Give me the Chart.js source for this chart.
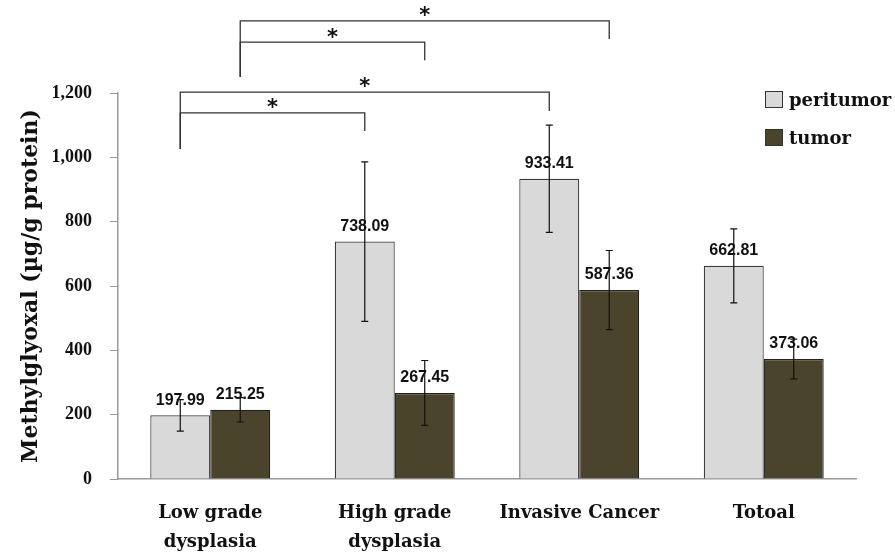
<!DOCTYPE html>
<html>
<head>
<meta charset="utf-8">
<script src="https://cdn.jsdelivr.net/npm/chart.js@4"></script>
<style>
    body { margin: 0; background: #fff; }
    .wrap { position: relative; width: 895px; height: 556px; }
    .legend { position: absolute; left: 765px; top: 80px; font: bold 18px 'DejaVu Serif', serif; color: #111; }
    .legend .item { display: flex; align-items: center; height: 38px; }
    .legend .box { width: 16px; height: 15px; border: 1px solid #333; margin-right: 6px; }
</style>
</head>
<body>
<div class="wrap">
    <canvas id="chart" width="895" height="556"></canvas>
    <div class="legend" id="legend"></div>
</div>
<script>
const categories = [['Low grade', 'dysplasia'], ['High grade', 'dysplasia'], 'Invasive Cancer', 'Totoal']
const seriesLabels = ['peritumor', 'tumor']
const peritumorValues = [197.99, 738.09, 933.41, 662.81]
const tumorValues = [215.25, 267.45, 587.36, 373.06]
const peritumorErrors = [49, 248, 167, 115]
const tumorErrors = [38, 101, 123, 62]
const yTicks = [0, 200, 400, 600, 800, 1000, 1200]

// significance brackets: [category, series] ends, heights in µg/g
const brackets = [
    {from: [0, 0], to: [1, 0], level: 1138, leftEnd: 1026, rightEnd: 1082},
    {from: [0, 0], to: [2, 0], level: 1203, leftEnd: 1026, rightEnd: 1144},
    {from: [0, 1], to: [1, 1], level: 1358, leftEnd: 1250, rightEnd: 1302},
    {from: [0, 1], to: [2, 1], level: 1424, leftEnd: 1250, rightEnd: 1368},
]

const colors = ['#d9d9d9', '#4a442d']
const errors = [peritumorErrors, tumorErrors]

const extrasPlugin = {
    id: 'extras',
    afterDatasetsDraw: (chart) => {
        const ctx = chart.ctx
        const y = chart.scales.y

        // value labels
        ctx.save()
        ctx.font = 'bold 16px "Liberation Sans", sans-serif'
        ctx.fillStyle = '#111'
        ctx.textAlign = 'center'
        ctx.textBaseline = 'bottom'
        chart.data.datasets.forEach((ds, i) => {
            chart.getDatasetMeta(i).data.forEach((bar, j) => {
                ctx.fillText(ds.data[j].toFixed(2), bar.x, bar.y - 7)
            })
        })

        // error bars
        ctx.strokeStyle = '#111'
        ctx.lineWidth = 1.2
        chart.data.datasets.forEach((ds, i) => {
            chart.getDatasetMeta(i).data.forEach((bar, j) => {
                const top = y.getPixelForValue(ds.data[j] + errors[i][j])
                const bottom = y.getPixelForValue(ds.data[j] - errors[i][j])
                ctx.beginPath()
                ctx.moveTo(bar.x, top)
                ctx.lineTo(bar.x, bottom)
                ctx.moveTo(bar.x - 3.5, top)
                ctx.lineTo(bar.x + 3.5, top)
                ctx.moveTo(bar.x - 3.5, bottom)
                ctx.lineTo(bar.x + 3.5, bottom)
                ctx.stroke()
            })
        })
        ctx.restore()
    },
    afterDraw: (chart) => {
        const ctx = chart.ctx
        const y = chart.scales.y
        const barX = (pos) => chart.getDatasetMeta(pos[1]).data[pos[0]].x

        ctx.save()
        ctx.strokeStyle = '#333'
        ctx.lineWidth = 1.3
        ctx.fillStyle = '#111'
        ctx.font = 'bold 21px "DejaVu Sans", sans-serif'
        ctx.textAlign = 'center'
        ctx.textBaseline = 'middle'
        brackets.forEach((b) => {
            const x1 = barX(b.from)
            const x2 = barX(b.to)
            const yl = y.getPixelForValue(b.level)
            ctx.beginPath()
            ctx.moveTo(x1, y.getPixelForValue(b.leftEnd))
            ctx.lineTo(x1, yl)
            ctx.lineTo(x2, yl)
            ctx.lineTo(x2, y.getPixelForValue(b.rightEnd))
            ctx.stroke()
            ctx.fillText('*', (x1 + x2) / 2, yl - 4)
        })
        ctx.restore()
    }
}

const buildLegend = () => {
    const legend = document.getElementById('legend')
    legend.innerHTML = ''
    seriesLabels.forEach((label, i) => {
        const item = document.createElement('div')
        item.className = 'item'
        item.innerHTML = `<span class="box" style="background:${colors[i]}"></span><span>${label}</span>`
        legend.appendChild(item)
    })
}

new Chart(document.getElementById('chart'), {
    type: 'bar',
    data: {
        labels: categories,
        datasets: [
            {label: seriesLabels[0], data: peritumorValues, backgroundColor: colors[0], borderColor: '#3a3a3a', borderWidth: 1.2},
            {label: seriesLabels[1], data: tumorValues, backgroundColor: colors[1], borderColor: '#222', borderWidth: 1.2},
        ]
    },
    options: {
        responsive: false,
        animation: false,
        layout: {padding: {top: 93, right: 39, left: 0, bottom: 0}},
        categoryPercentage: 0.65,
        barPercentage: 1.0,
        plugins: {
            legend: {display: false},
            tooltip: {enabled: false}
        },
        scales: {
            x: {
                grid: {display: false},
                border: {display: true, color: '#999', width: 1.5},
                ticks: {
                    color: '#111',
                    padding: 11,
                    maxRotation: 0,
                    font: {family: '"DejaVu Serif", serif', weight: 'bold', size: 18, lineHeight: 1.65}
                },
                afterFit: (scale) => { scale.height = 77 }
            },
            y: {
                min: 0,
                max: 1200,
                afterBuildTicks: (scale) => { scale.ticks = yTicks.map(v => ({value: v})) },
                grid: {drawOnChartArea: false, drawTicks: true, tickLength: 8, color: '#999'},
                border: {display: true, color: '#999', width: 1.5},
                ticks: {
                    color: '#111',
                    padding: 18,
                    callback: (v) => v.toLocaleString('en-US'),
                    font: {family: '"Liberation Serif", serif', weight: 'bold', size: 18}
                },
                title: {
                    display: true,
                    text: 'Methylglyoxal (µg/g protein)',
                    color: '#111',
                    padding: {top: 18, bottom: 0},
                    font: {family: '"DejaVu Serif", serif', weight: 'bold', size: 22}
                },
                afterFit: (scale) => { scale.width = 118 }
            }
        }
    },
    plugins: [extrasPlugin]
})

buildLegend()
</script>
</body>
</html>
